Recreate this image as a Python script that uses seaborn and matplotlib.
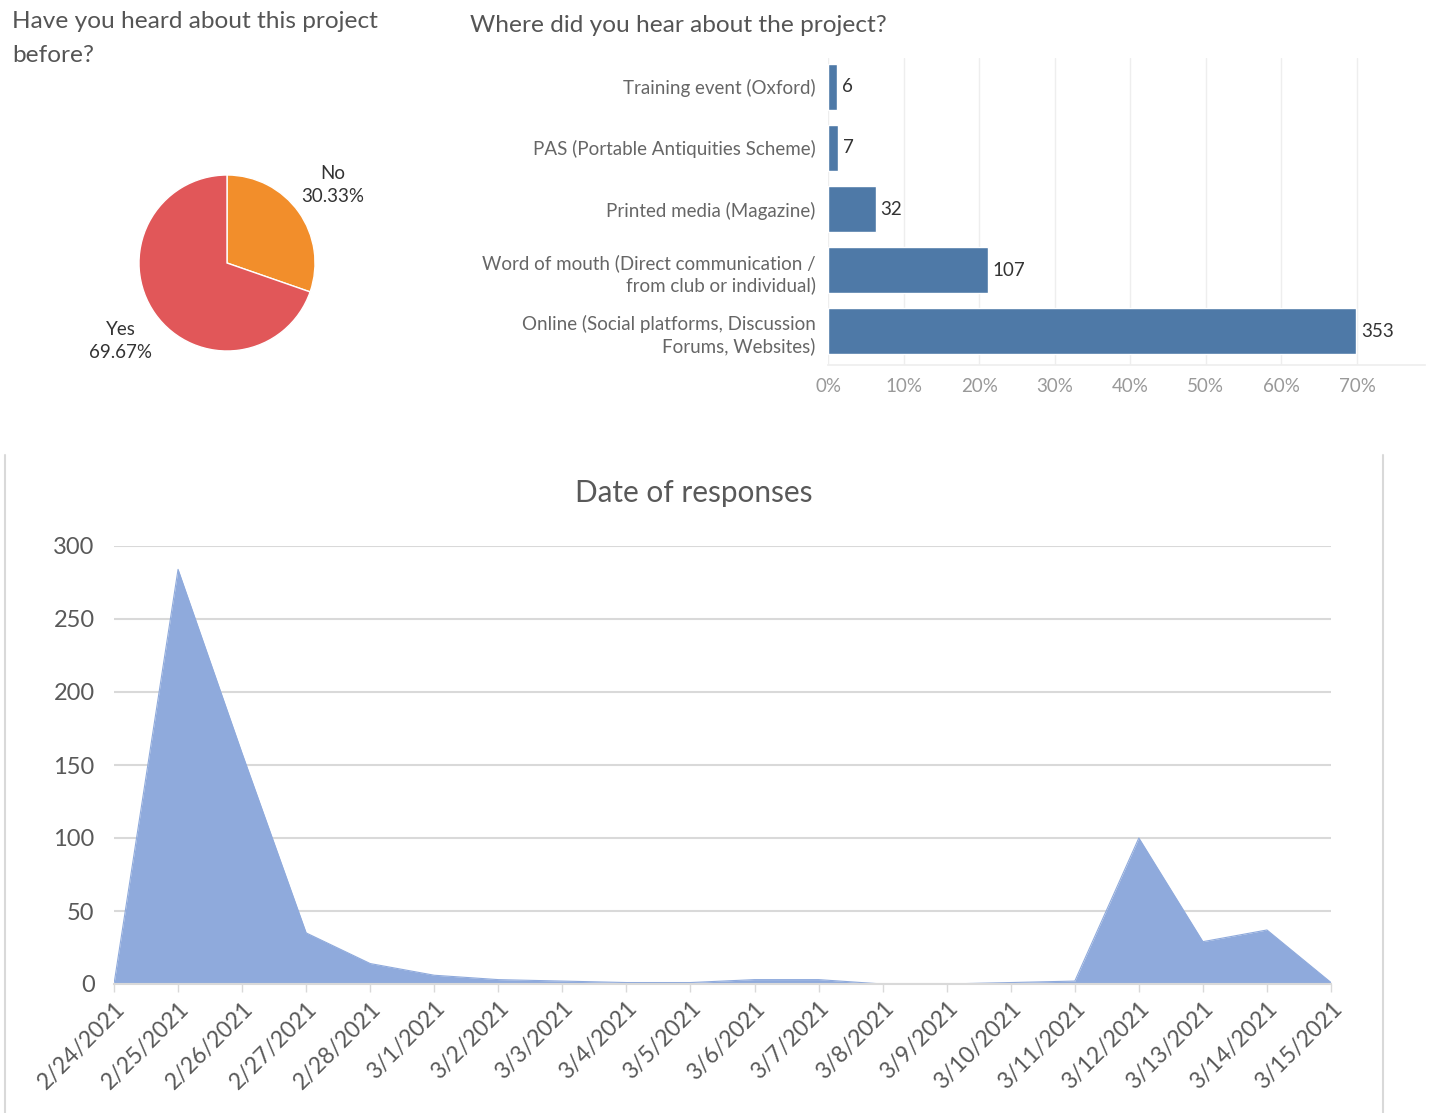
import matplotlib
matplotlib.use("Agg")
import matplotlib.pyplot as plt
import seaborn as sns
import pandas as pd
import numpy as np

# ---- data ----
heard_labels = ["No", "Yes"]
heard_pct = [30.33, 69.67]

source_labels = [
    "Training event (Oxford)",
    "PAS (Portable Antiquities Scheme)",
    "Printed media (Magazine)",
    "Word of mouth (Direct communication /\nfrom club or individual)",
    "Online (Social platforms, Discussion\nForums, Websites)",
]
source_counts = [6, 7, 32, 107, 353]

dates = ["2/24/2021", "2/25/2021", "2/26/2021", "2/27/2021", "2/28/2021",
         "3/1/2021", "3/2/2021", "3/3/2021", "3/4/2021", "3/5/2021",
         "3/6/2021", "3/7/2021", "3/8/2021", "3/9/2021", "3/10/2021",
         "3/11/2021", "3/12/2021", "3/13/2021", "3/14/2021", "3/15/2021"]
responses = [0, 284, 158, 35, 14, 6, 3, 2, 1, 1,
             3, 3, 0, 0, 1, 2, 100, 29, 37, 1]

# ---- figure ----
W, H = 1432, 1113
sns.set_theme(style="white")
plt.rcParams["font.family"] = ["Lato", "DejaVu Sans"]
fig = plt.figure(figsize=(W / 100, H / 100), dpi=100)
fig.patch.set_facecolor("white")


def px_axes(x0, y0, x1, y1):
    return fig.add_axes([x0 / W, 1 - y1 / H, (x1 - x0) / W, (y1 - y0) / H])


# ---- pie ----
fig.text(12 / W, 1 - 22 / H, "Have you heard about this project", fontsize=17.6,
         color="#555555", va="center", ha="left")
fig.text(12 / W, 1 - 55 / H, "before?", fontsize=17.6,
         color="#555555", va="center", ha="left")

cx, cy, r = 227, 263, 88
span = 160
ax_pie = px_axes(cx - span, cy - span, cx + span, cy + span)
ax_pie.pie(heard_pct, colors=["#F28E2B", "#E15759"], startangle=90,
           counterclock=False, radius=1.0)
lim = span / r
ax_pie.set_xlim(-lim, lim)
ax_pie.set_ylim(-lim, lim)
ax_pie.set_aspect("equal")
ax_pie.axis("off")
ax_pie.text((333 - cx) / r, (cy - 185) / r, f"{heard_labels[0]}\n{heard_pct[0]:.2f}%",
            ha="center", va="center", fontsize=13.5, color="#333333", linespacing=1.4)
ax_pie.text((121 - cx) / r, (cy - 341) / r, f"{heard_labels[1]}\n{heard_pct[1]:.2f}%",
            ha="center", va="center", fontsize=13.5, color="#333333", linespacing=1.4)

# ---- horizontal bars ----
fig.text(470 / W, 1 - 25 / H, "Where did you hear about the project?", fontsize=17.6,
         color="#555555", va="center", ha="left")

total = sum(source_counts)
bar_df = pd.DataFrame({
    "source": source_labels,
    "share": [c / total for c in source_counts],
    "count": source_counts,
})
ax_bar = px_axes(828, 58, 1425, 365)
sns.barplot(data=bar_df, x="share", y="source", orient="h", color="#4E79A7",
            saturation=1, width=0.75, ax=ax_bar)
ax_bar.set_xlim(0, 0.79)
ax_bar.set_ylim(4.55, -0.47)
ticks = np.arange(0, 0.71, 0.1)
ax_bar.set_xticks(ticks)
ax_bar.set_xticklabels([f"{int(round(t * 100))}%" for t in ticks],
                       fontsize=13.5, color="#999999")
ax_bar.tick_params(axis="x", length=0, pad=9)
ax_bar.tick_params(axis="y", length=0, pad=9)
for lbl in ax_bar.get_yticklabels():
    lbl.set_fontsize(13.5)
    lbl.set_color("#666666")
    lbl.set_linespacing(1.3)
ax_bar.set_xlabel("")
ax_bar.set_ylabel("")
ax_bar.grid(axis="x", color="#eeeeee", linewidth=1)
ax_bar.set_axisbelow(True)
for s in ["top", "right", "left"]:
    ax_bar.spines[s].set_visible(False)
ax_bar.spines["bottom"].set_color("#eeeeee")
for i, (share, cnt) in enumerate(zip(bar_df["share"], bar_df["count"])):
    ax_bar.text(share + 0.006, i, str(cnt), va="center", ha="left",
                fontsize=13.5, color="#333333")

# ---- area chart ----
fig.add_artist(plt.Line2D([5 / W, 5 / W], [0, 1 - 455 / H], color="#d9d9d9", lw=1.5))
fig.add_artist(plt.Line2D([1383 / W, 1383 / W], [0, 1 - 455 / H], color="#d9d9d9", lw=1.5))

area_df = pd.DataFrame({"pos": np.arange(len(dates)), "n": responses})
ax_area = px_axes(114, 546, 1331, 984)
sns.lineplot(data=area_df, x="pos", y="n", color="#8FAADC", linewidth=0.8, ax=ax_area)
ax_area.fill_between(area_df["pos"], area_df["n"], 0, color="#8FAADC", linewidth=0)
ax_area.set_xlim(0, len(dates) - 1)
ax_area.set_ylim(0, 300)
ax_area.set_yticks([0, 50, 100, 150, 200, 250, 300])
ax_area.set_yticklabels(["0", "50", "100", "150", "200", "250", "300"],
                        fontsize=17, color="#595959")
ax_area.set_xticks(area_df["pos"])
ax_area.set_xticklabels(dates, rotation=45, ha="right", rotation_mode="anchor",
                        fontsize=16.5, color="#595959")
ax_area.tick_params(axis="y", length=0, pad=14)
ax_area.tick_params(axis="x", length=6, width=1, color="#d9d9d9", pad=4, direction="out")
ax_area.xaxis.set_ticks_position("bottom")
ax_area.set_xlabel("")
ax_area.set_ylabel("")
ax_area.grid(axis="y", color="#d9d9d9", linewidth=1.5)
ax_area.grid(axis="x", visible=False)
ax_area.set_axisbelow(True)
for s in ["top", "right", "left"]:
    ax_area.spines[s].set_visible(False)
ax_area.spines["bottom"].set_color("#d9d9d9")
ax_area.spines["bottom"].set_linewidth(1.5)
fig.text(694 / W, 1 - 493 / H, "Date of responses", fontsize=21.4, color="#595959",
         ha="center", va="center")

fig.savefig("out.png", dpi=100, facecolor="white")
